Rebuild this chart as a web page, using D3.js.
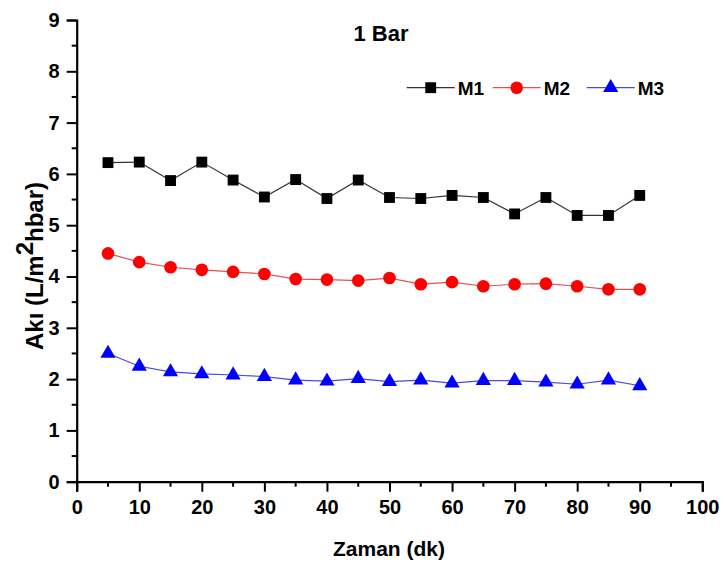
<!DOCTYPE html>
<html><head><meta charset="utf-8">
<script src="https://cdn.jsdelivr.net/npm/d3@7"></script>
<style>body{margin:0;background:#fff}svg{display:block}text{font-family:"Liberation Sans",Arial,sans-serif;font-weight:bold}</style>
</head><body><svg id="c" width="724" height="564"></svg>
<script>
const times = [5,10,15,20,25,30,35,40,45,50,55,60,65,70,75,80,85,90];
const m1 = [6.22,6.23,5.87,6.23,5.88,5.55,5.89,5.52,5.88,5.54,5.52,5.58,5.54,5.22,5.54,5.19,5.19,5.58];
const m2 = [4.45,4.28,4.18,4.13,4.09,4.05,3.95,3.94,3.92,3.97,3.85,3.89,3.81,3.85,3.86,3.81,3.75,3.75];
const m3 = [2.50,2.25,2.14,2.10,2.08,2.05,1.98,1.96,2.01,1.95,1.98,1.92,1.97,1.97,1.94,1.90,1.98,1.87];
const xTicks = [0,10,20,30,40,50,60,70,80,90,100];
const yTicks = [0,1,2,3,4,5,6,7,8,9];
const seriesNames = ["M1","M2","M3"];

const svg = d3.select("#c");
const x = d3.scaleLinear().domain([0,100]).range([76.7,702.3]);
const y = d3.scaleLinear().domain([0,9]).range([481.7,20]);

const series = [
  {name:seriesNames[0], vals:m1, line:"#333", fill:"#000", sym:d3.symbolSquare, size:118},
  {name:seriesNames[1], vals:m2, line:"#e85050", fill:"#ff0000", sym:d3.symbolCircle, size:125},
  {name:seriesNames[2], vals:m3, line:"#4a4ae0", fill:"#0000ff", sym:d3.symbolTriangle, size:100}
];

// axes
const xAxis = d3.axisBottom(x).tickValues(xTicks).tickSize(10).tickPadding(8);
const gx = svg.append("g").attr("transform",`translate(0,${y(0)})`).call(xAxis);
const yAxis = d3.axisLeft(y).tickValues(yTicks).tickSize(10).tickPadding(7);
const gy = svg.append("g").attr("transform",`translate(${x(0)},0)`).call(yAxis);
[gx,gy].forEach(g=>{
  g.attr("font-size",null).attr("font-family",null);
  g.select(".domain").attr("stroke","#000").attr("stroke-width",2.2);
  g.selectAll(".tick line").attr("stroke","#000").attr("stroke-width",2);
  g.selectAll(".tick text").style("font-size","20px").attr("fill","#000");
});
// minor ticks
const xMinor = d3.range(5,100,10);
svg.append("g").selectAll("line").data(xMinor).join("line")
  .attr("x1",d=>x(d)).attr("x2",d=>x(d)).attr("y1",y(0)).attr("y2",y(0)+5)
  .attr("stroke","#000").attr("stroke-width",2);
const yMinor = d3.range(0.5,9,1);
svg.append("g").selectAll("line").data(yMinor).join("line")
  .attr("y1",d=>y(d)).attr("y2",d=>y(d)).attr("x1",x(0)).attr("x2",x(0)-5)
  .attr("stroke","#000").attr("stroke-width",2);

// lines & markers
const lineGen = d3.line().x((d,i)=>x(times[i])).y(d=>y(d));
series.forEach(s=>{
  svg.append("path").datum(s.vals).attr("d",lineGen).attr("fill","none")
    .attr("stroke",s.line).attr("stroke-width",1.2);
  svg.append("g").selectAll("path").data(s.vals).join("path")
    .attr("d",d3.symbol().type(s.sym).size(s.size))
    .attr("transform",(d,i)=>`translate(${x(times[i])},${y(d)})`)
    .attr("fill",s.fill);
});

// legend
const legendX = [406.7, 492.7, 586.7];
const legendY = 87.7;
series.forEach((s,i)=>{
  const lx = legendX[i];
  const g = svg.append("g");
  g.append("line").attr("x1",lx).attr("x2",lx+48).attr("y1",legendY).attr("y2",legendY)
    .attr("stroke",s.line).attr("stroke-width",1.2);
  g.append("path").attr("d",d3.symbol().type(s.sym).size(s.size))
    .attr("transform",`translate(${lx+24},${legendY})`).attr("fill",s.fill);
  g.append("text").attr("x",lx+51).attr("y",legendY+7).style("font-size","19px").text(s.name);
});

// title
svg.append("text").attr("x",381).attr("y",41).attr("text-anchor","middle").style("font-size","22px").text("1 Bar");
// x label
svg.append("text").attr("x",389).attr("y",555.5).attr("text-anchor","middle").style("font-size","21px").text("Zaman (dk)");
// y label
const yl = svg.append("text").attr("transform","translate(43,266) rotate(-90)").attr("text-anchor","middle").style("font-size","24px");
yl.append("tspan").text("Akı (L/m");
yl.append("tspan").attr("dy",-10).text("2");
yl.append("tspan").attr("dy",10).text("hbar)");
</script></body></html>
